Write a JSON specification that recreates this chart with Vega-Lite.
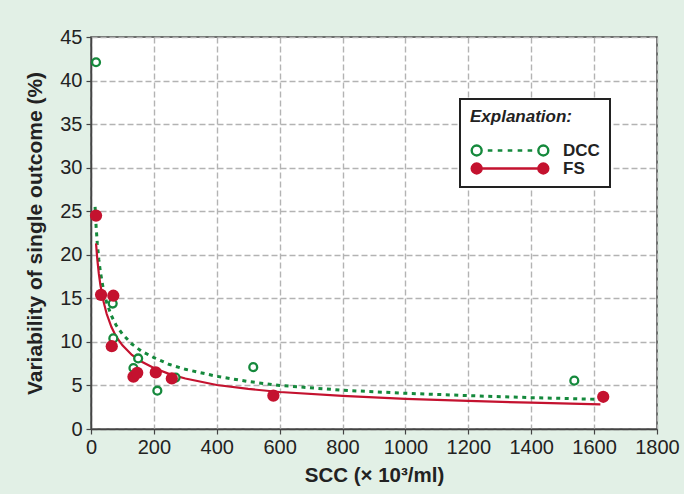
{
  "$schema": "https://vega.github.io/schema/vega-lite/v6.json",
  "autosize": {"type": "none"},
  "width": 566,
  "height": 392,
  "padding": {"left": 91, "top": 37, "right": 27, "bottom": 65},
  "background": "#e2f0e6",
  "config": {
    "font": "Liberation Sans",
    "view": {"fill": "#ffffff", "stroke": "#444444", "strokeWidth": 1.5},
    "axis": {
      "labelFont": "Liberation Sans",
      "labelFontSize": 20,
      "labelColor": "#222222",
      "labelOverlap": false,
      "labelFlush": false,
      "titleFont": "Liberation Sans",
      "titleFontSize": 20.5,
      "titleFontWeight": "bold",
      "titleColor": "#222222",
      "domainColor": "#444444",
      "domainWidth": 1.5,
      "tickColor": "#444444",
      "tickSize": 5,
      "tickWidth": 1.2,
      "gridColor": "#b3b3b3",
      "gridDash": [6, 3],
      "gridWidth": 1.4
    }
  },
  "datasets": {
    "points": [
      {"series": "DCC", "scc": 16, "v": 42.1},
      {"series": "DCC", "scc": 69, "v": 14.4},
      {"series": "DCC", "scc": 71, "v": 10.4},
      {"series": "DCC", "scc": 150, "v": 8.1},
      {"series": "DCC", "scc": 135, "v": 7.0},
      {"series": "DCC", "scc": 211, "v": 4.4},
      {"series": "DCC", "scc": 269, "v": 5.9},
      {"series": "DCC", "scc": 516, "v": 7.1},
      {"series": "DCC", "scc": 1537, "v": 5.55},
      {"series": "FS", "scc": 16, "v": 24.5},
      {"series": "FS", "scc": 32, "v": 15.4},
      {"series": "FS", "scc": 71, "v": 15.3},
      {"series": "FS", "scc": 66, "v": 9.5},
      {"series": "FS", "scc": 135, "v": 6.0},
      {"series": "FS", "scc": 147, "v": 6.45},
      {"series": "FS", "scc": 206, "v": 6.5},
      {"series": "FS", "scc": 257, "v": 5.8},
      {"series": "FS", "scc": 580, "v": 3.83},
      {"series": "FS", "scc": 1629, "v": 3.7}
    ],
    "fits": [
      {"series": "DCC", "scc": 13, "v": 25.5},
      {"series": "DCC", "scc": 16, "v": 23.4},
      {"series": "DCC", "scc": 20, "v": 21.3},
      {"series": "DCC", "scc": 25, "v": 19.4},
      {"series": "DCC", "scc": 30, "v": 18.0},
      {"series": "DCC", "scc": 40, "v": 15.9},
      {"series": "DCC", "scc": 50, "v": 14.5},
      {"series": "DCC", "scc": 65, "v": 13.0},
      {"series": "DCC", "scc": 80, "v": 11.9},
      {"series": "DCC", "scc": 100, "v": 10.9},
      {"series": "DCC", "scc": 130, "v": 9.75},
      {"series": "DCC", "scc": 160, "v": 8.95},
      {"series": "DCC", "scc": 200, "v": 8.2},
      {"series": "DCC", "scc": 250, "v": 7.4},
      {"series": "DCC", "scc": 300, "v": 6.85},
      {"series": "DCC", "scc": 400, "v": 6.05},
      {"series": "DCC", "scc": 500, "v": 5.45},
      {"series": "DCC", "scc": 600, "v": 5.0},
      {"series": "DCC", "scc": 800, "v": 4.45},
      {"series": "DCC", "scc": 1000, "v": 4.1},
      {"series": "DCC", "scc": 1200, "v": 3.83},
      {"series": "DCC", "scc": 1400, "v": 3.6},
      {"series": "DCC", "scc": 1620, "v": 3.4},
      {"series": "FS", "scc": 16, "v": 21.3},
      {"series": "FS", "scc": 20, "v": 19.5},
      {"series": "FS", "scc": 25, "v": 17.8},
      {"series": "FS", "scc": 30, "v": 16.5},
      {"series": "FS", "scc": 40, "v": 14.6},
      {"series": "FS", "scc": 50, "v": 13.2},
      {"series": "FS", "scc": 65, "v": 11.7},
      {"series": "FS", "scc": 80, "v": 10.6},
      {"series": "FS", "scc": 100, "v": 9.6},
      {"series": "FS", "scc": 130, "v": 8.5},
      {"series": "FS", "scc": 160, "v": 7.75},
      {"series": "FS", "scc": 200, "v": 7.0},
      {"series": "FS", "scc": 250, "v": 6.3},
      {"series": "FS", "scc": 300, "v": 5.8},
      {"series": "FS", "scc": 400, "v": 5.05},
      {"series": "FS", "scc": 500, "v": 4.6},
      {"series": "FS", "scc": 600, "v": 4.25},
      {"series": "FS", "scc": 800, "v": 3.8},
      {"series": "FS", "scc": 1000, "v": 3.46},
      {"series": "FS", "scc": 1200, "v": 3.22},
      {"series": "FS", "scc": 1400, "v": 3.02},
      {"series": "FS", "scc": 1620, "v": 2.82}
    ]
  },
  "encoding": {
    "x": {
      "field": "scc", "type": "quantitative",
      "scale": {"domain": [0, 1800], "nice": false},
      "axis": {"values": [0, 200, 400, 600, 800, 1000, 1200, 1400, 1600, 1800], "format": "d", "title": "SCC (× 10³/ml)", "titlePadding": 8, "labelPadding": 3}
    },
    "y": {
      "field": "v", "type": "quantitative",
      "scale": {"domain": [0, 45], "nice": false},
      "axis": {"values": [0, 5, 10, 15, 20, 25, 30, 35, 40, 45], "format": "d", "title": "Variability of single outcome (%)", "titleFontSize": 21, "titlePadding": 14, "labelPadding": 4}
    },
    "color": {
      "field": "series", "type": "nominal",
      "scale": {"domain": ["DCC", "FS"], "range": ["#15893c", "#c4122f"]},
      "legend": {
        "title": "Explanation:",
        "orient": "none",
        "legendX": 369,
        "legendY": 62,
        "padding": 10,
        "strokeColor": "#222222",
        "fillColor": "#ffffff",
        "titleFont": "Liberation Sans",
        "titleFontSize": 17,
        "titleFontWeight": "bold",
        "titleFontStyle": "italic",
        "titleColor": "#222222",
        "titlePadding": 16,
        "labelFont": "Liberation Sans",
        "labelFontSize": 17,
        "labelFontWeight": "bold",
        "labelColor": "#222222",
        "labelOffset": 13,
        "symbolSize": 5868,
        "clipHeight": 17,
        "rowPadding": 0,
        "encode": {
          "legend": {"update": {"strokeWidth": {"value": 2}}},
          "symbols": {
            "update": {
              "shape": {"signal": "datum.value === 'DCC' ? 'M-1,0A0.13,0.13 0 1,0 -0.74,0A0.13,0.13 0 1,0 -1,0Z M0.74,0A0.13,0.13 0 1,0 1,0A0.13,0.13 0 1,0 0.74,0Z M-0.58,0L-0.46,0 M-0.32,0L-0.2,0 M-0.06,0L0.06,0 M0.2,0L0.32,0 M0.46,0L0.58,0' : 'M-1,0A0.13,0.13 0 1,0 -0.74,0A0.13,0.13 0 1,0 -1,0Z M0.74,0A0.13,0.13 0 1,0 1,0A0.13,0.13 0 1,0 0.74,0Z M-0.74,0L0.74,0'"},
              "fill": {"signal": "datum.value === 'DCC' ? '#ffffff' : '#c4122f'"},
              "fillOpacity": {"signal": "datum.value === 'DCC' ? 0 : 1"},
              "stroke": {"signal": "datum.value === 'DCC' ? '#15893c' : '#c4122f'"},
              "strokeWidth": {"value": 2.4},
              "opacity": {"value": 1}
            }
          }
        }
      }
    }
  },
  "layer": [
    {
      "data": {"name": "fits"},
      "transform": [{"filter": "datum.series === 'DCC'"}],
      "mark": {"type": "line", "strokeDash": [4, 4.5], "strokeWidth": 3}
    },
    {
      "data": {"name": "fits"},
      "transform": [{"filter": "datum.series === 'FS'"}],
      "mark": {"type": "line", "strokeWidth": 2.2}
    },
    {
      "data": {"name": "points"},
      "transform": [{"filter": "datum.series === 'DCC'"}],
      "mark": {"type": "point", "shape": "circle", "filled": false, "fill": "#ffffff", "size": 62, "strokeWidth": 2.3, "opacity": 1}
    },
    {
      "data": {"name": "points"},
      "transform": [{"filter": "datum.series === 'FS'"}],
      "mark": {"type": "point", "shape": "circle", "filled": true, "size": 150, "opacity": 1}
    }
  ]
}
